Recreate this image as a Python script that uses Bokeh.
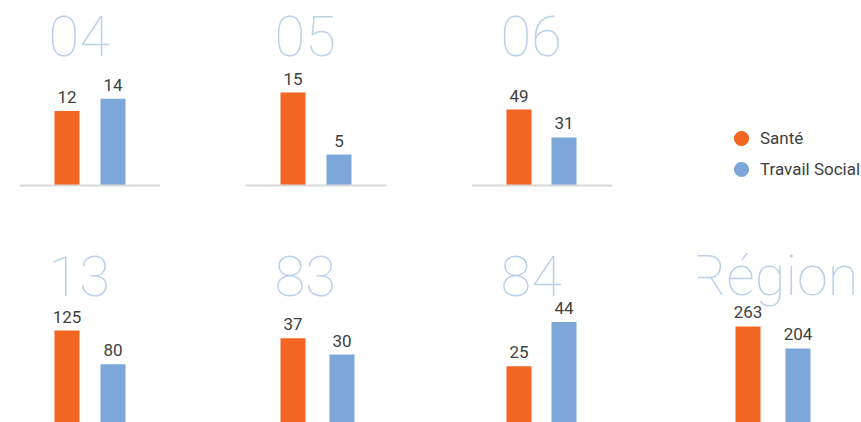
from bokeh.plotting import figure
from bokeh.layouts import row, column
from bokeh.models import (ColumnDataSource, Range1d, Span, Label, Legend, LegendItem)
from bokeh.core.properties import value
from bokeh.embed import file_html
from bokeh.resources import INLINE

# --- data -------------------------------------------------------------
PANELS = ["04", "05", "06", "13", "83", "84", "Région"]
SERIES = ["Santé", "Travail Social"]
SANTE = [12, 15, 49, 125, 37, 25, 263]
TRAVAIL_SOCIAL = [14, 5, 31, 80, 30, 44, 204]

# --- styling / layout -------------------------------------------------
COLORS = ["#F26522", "#7DA7D9"]
TITLE_COLOR = "#BCD0EC"
LABEL_COLOR = "#404040"
AXIS_COLOR = "#D9D9D9"

COL_WIDTHS = [226, 226, 226, 183]
ROW_HEIGHTS = [239, 183]
BASELINE_FROM_TOP = 185       # pixel offset of the zero line inside each cell
BORDER_LEFT = 19
BAR_WIDTH_PX = 25
# pixels per unit of value, one per panel (each small chart has its own scale)
PX_PER_UNIT = [6.2, 6.2, 1.55, 0.752, 2.33, 2.33, 0.373]
# horizontal pitch between the two bars of a panel, and first bar centre
BAR_PITCH = [46, 46, 45, 46, 49, 45, 50]
FIRST_BAR_CENTER = [66.5, 66.5, 66.5, 66.5, 66.5, 66.5, 69.5]
TITLE_X = [29, 29, 29, 29, 29, 29, 161]
TITLE_ALIGN = ["left"] * 6 + ["right"]
TITLE_FONT = "Roboto Thin"
TITLE_SIZE = "56px"


def base_figure(width, height, right_border):
    p = figure(width=width, height=height, output_backend="svg",
               toolbar_location=None, x_axis_location=None,
               y_axis_location=None, min_border_left=BORDER_LEFT,
               min_border_right=right_border, min_border_top=0,
               min_border_bottom=0, outline_line_color=None,
               background_fill_color="white", border_fill_color="white")
    p.xgrid.grid_line_color = None
    p.ygrid.grid_line_color = None
    return p


def panel(i, col, rw):
    width = COL_WIDTHS[col]
    height = ROW_HEIGHTS[rw]
    right_border = 66 if col < 3 else 0
    p = base_figure(width, height, right_border)
    frame_w = width - BORDER_LEFT - right_border

    k = PX_PER_UNIT[i]
    p.y_range = Range1d((BASELINE_FROM_TOP - height) / k, BASELINE_FROM_TOP / k)
    a = FIRST_BAR_CENTER[i] - BORDER_LEFT
    g = BAR_PITCH[i]
    p.x_range = Range1d(-a / g, (frame_w - a) / g)

    vals = [SANTE[i], TRAVAIL_SOCIAL[i]]
    src = ColumnDataSource(dict(x=[0, 1], top=vals, color=COLORS,
                                label=[str(v) for v in vals]))
    p.add_layout(Span(location=0, dimension="width", line_color=AXIS_COLOR,
                      line_width=2), "center")
    p.vbar(x="x", top="top", bottom=0, width=BAR_WIDTH_PX / g, color="color",
           line_color=None, source=src)
    p.text(x="x", y="top", text="label", source=src, text_align="center",
           text_baseline="alphabetic", y_offset=-14,
           text_font=value("Roboto"), text_font_size="17px",
           text_color=LABEL_COLOR)

    title_baseline = 55 if rw == 0 else 56
    p.add_layout(Label(x=TITLE_X[i], y=height - title_baseline + 20,
                       x_units="screen", y_units="screen", text=PANELS[i],
                       text_font=TITLE_FONT, text_font_size=TITLE_SIZE,
                       text_color=TITLE_COLOR, text_align=TITLE_ALIGN[i],
                       text_baseline="alphabetic"))
    return p


def legend_figure():
    width, height = COL_WIDTHS[3], ROW_HEIGHTS[0]
    p = base_figure(width, height, 0)
    p.x_range = Range1d(0, 1)
    p.y_range = Range1d(0, 1)
    # one single-entry legend per series so the row pitch can be set freely
    for (name, color, bottom) in zip(SERIES, COLORS, [82.5, 51.5]):
        r = p.scatter(x=[float("nan")], y=[float("nan")], marker="circle",
                      size=15, fill_color=color, line_color=None)
        legend = Legend(items=[LegendItem(label=name, renderers=[r])],
                        location=(25, bottom), glyph_width=38,
                        glyph_height=38, label_standoff=0, padding=0,
                        margin=0, border_line_color=None,
                        background_fill_alpha=0, label_text_font="Roboto",
                        label_text_font_size="17px",
                        label_text_color=LABEL_COLOR)
        p.add_layout(legend, "center")
    return p


top = row(panel(0, 0, 0), panel(1, 1, 0), panel(2, 2, 0), legend_figure())
bottom = row(panel(3, 0, 1), panel(4, 1, 1), panel(5, 2, 1), panel(6, 3, 1))
layout = column(top, bottom)

open("out.html", "w").write(file_html(layout, INLINE))
